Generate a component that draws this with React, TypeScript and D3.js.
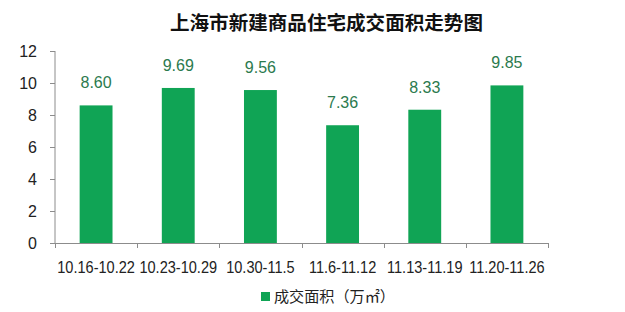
import React from "react";
import * as d3 from "d3";

const title = "上海市新建商品住宅成交面积走势图";
const categories = ["10.16-10.22", "10.23-10.29", "10.30-11.5", "11.6-11.12", "11.13-11.19", "11.20-11.26"];
const values = [8.60, 9.69, 9.56, 7.36, 8.33, 9.85];
const yTicks = [0, 2, 4, 6, 8, 10, 12];
const seriesName = "成交面积（万㎡）";

export default function App() {
  const W = 625, H = 312;
  const left = 55, right = 548, top = 51, bottom = 243;
  const x = d3.scaleBand<string>().domain(categories).range([left, right]).paddingInner(0.6).paddingOuter(0.3);
  const y = d3.scaleLinear().domain([0, 12]).range([bottom, top]);
  const step = x.step();
  const font = "Arial, 'Liberation Sans', sans-serif";
  const barColor = "#10A455";
  const labelColor = "#2B7A4E";
  const axisColor = "#8c8c8c";
  const boundaries = d3.range(categories.length + 1).map((i) => left + i * step);
  return (
    <svg width={W} height={H} style={{ position: "absolute", left: 0, top: 0, background: "#fff" }}>
      <text x={170} y={30} textLength={313} lengthAdjust="spacingAndGlyphs" fontFamily="'Noto Sans CJK SC', sans-serif" fontWeight="bold" fontSize={19} fill="#111">{title}</text>
      {/* y axis */}
      <line x1={left} x2={left} y1={top} y2={bottom} stroke={axisColor} />
      {yTicks.map((t) => (
        <g key={t}>
          <line x1={left - 5} x2={left} y1={Math.round(y(t)) + 0.5} y2={Math.round(y(t)) + 0.5} stroke={axisColor} />
          <text x={37} y={y(t) + 6} textAnchor="end" fontFamily={font} fontSize={16} fill="#222">{t}</text>
        </g>
      ))}
      {/* bars */}
      {categories.map((c, i) => (
        <g key={c}>
          <rect x={x(c)!} y={y(values[i])} width={x.bandwidth()} height={bottom - y(values[i])} fill={barColor} />
          <text x={x(c)! + x.bandwidth() / 2} y={y(values[i]) - 17} textAnchor="middle" fontFamily={font} fontSize={16} fill={labelColor}>{values[i].toFixed(2)}</text>
          <text transform={`translate(${x(c)! + x.bandwidth() / 2},273) scale(0.91,1)`} textAnchor="middle" fontFamily={font} fontSize={16} fill="#222">{c}</text>
        </g>
      ))}
      {/* x axis */}
      <line x1={left} x2={right} y1={bottom + 0.5} y2={bottom + 0.5} stroke={axisColor} />
      {boundaries.map((b, i) => (
        <line key={i} x1={Math.round(b) + 0.5} x2={Math.round(b) + 0.5} y1={bottom} y2={bottom + 5} stroke={axisColor} />
      ))}
      {/* legend */}
      <rect x={261} y={292} width={9} height={9} fill={barColor} />
      <text x={274} y={302} textLength={121} lengthAdjust="spacingAndGlyphs" fontFamily="'Noto Sans CJK SC', sans-serif" fontSize={15} fill="#222">{seriesName}</text>
    </svg>
  );
}
